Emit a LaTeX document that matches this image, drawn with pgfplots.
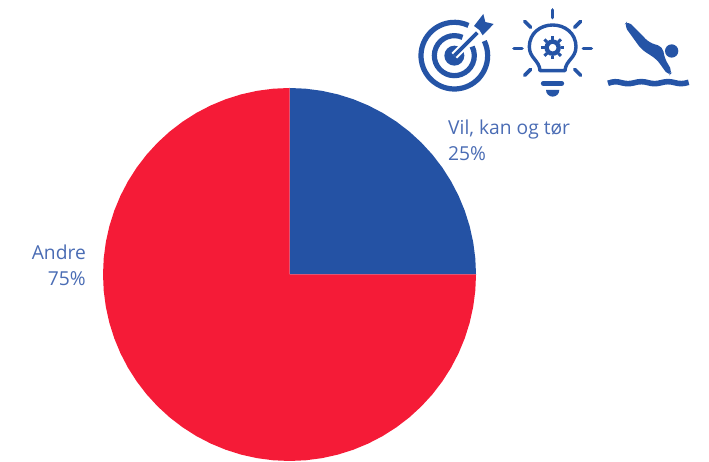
\documentclass[border=0pt]{standalone}
\usepackage{pgfplots}
\pgfplotsset{compat=1.18}
\usepackage{fontspec}
\setmainfont{Open Sans}
\definecolor{pieblue}{HTML}{2452A4}
\definecolor{piered}{HTML}{F51B37}
\definecolor{labelblue}{HTML}{4A6CB4}
\definecolor{iconblue}{HTML}{2554A6}
\begin{document}
\begin{tikzpicture}[x=1bp,y=1bp]
\useasboundingbox (0,0) rectangle (709,462);
\begin{axis}[
  at={(0,0)},anchor=south west,
  scale only axis,width=709bp,height=462bp,
  xmin=-289.5,xmax=419.5,ymin=-187.5,ymax=274.5,
  hide axis,clip=false,
]
% Share of 25 %: quarter circle, angle and radius per vertex
\addplot[data cs=polar,fill=pieblue,draw=none] coordinates {
 (0,0) (0,186.5) (5,186.5) (10,186.5) (15,186.5) (20,186.5) (25,186.5) (30,186.5) (35,186.5)
 (40,186.5) (45,186.5) (50,186.5) (55,186.5) (60,186.5) (65,186.5) (70,186.5) (75,186.5)
 (80,186.5) (85,186.5) (90,186.5)} -- cycle;
% Share of 75 %: the remaining three quarters
\addplot[data cs=polar,fill=piered,draw=none] coordinates {
 (0,0) (90,186.5) (95,186.5) (100,186.5) (105,186.5) (110,186.5) (115,186.5) (120,186.5)
 (125,186.5) (130,186.5) (135,186.5) (140,186.5) (145,186.5) (150,186.5) (155,186.5)
 (160,186.5) (165,186.5) (170,186.5) (175,186.5) (180,186.5) (185,186.5) (190,186.5)
 (195,186.5) (200,186.5) (205,186.5) (210,186.5) (215,186.5) (220,186.5) (225,186.5)
 (230,186.5) (235,186.5) (240,186.5) (245,186.5) (250,186.5) (255,186.5) (260,186.5)
 (265,186.5) (270,186.5) (275,186.5) (280,186.5) (285,186.5) (290,186.5) (295,186.5)
 (300,186.5) (305,186.5) (310,186.5) (315,186.5) (320,186.5) (325,186.5) (330,186.5)
 (335,186.5) (340,186.5) (345,186.5) (350,186.5) (355,186.5) (360,186.5)} -- cycle;
\end{axis}

% Slice labels
\begin{scope}[shift={(0,462)},y=-1bp]
\node[anchor=base east,inner sep=0pt,text=labelblue,font=\fontsize{19.3}{22}\selectfont] at (86,260) {Andre};
\node[anchor=base east,inner sep=0pt,text=labelblue,font=\fontsize{19.3}{22}\selectfont] at (86,286) {75\%};
\node[anchor=base west,inner sep=0pt,text=labelblue,font=\fontsize{19.3}{22}\selectfont] at (448,135) {Vil, kan og tør};
\node[anchor=base west,inner sep=0pt,text=labelblue,font=\fontsize{19.3}{22}\selectfont] at (448,161) {25\%};
\end{scope}

% Icons, in a finer grid of three units per point
\begin{scope}[shift={(400,462)},x=0.33333bp,y=-0.33333bp,iconblue]
% Target with arrow
\fill (163,167) circle (30);
\draw[line width=5.2bp] (163,167) ++(-66:60) arc[start angle=-66,end angle=-387,radius=60];
\draw[line width=5.2bp] (163,167) ++(-65:100) arc[start angle=-65,end angle=-386,radius=100];
\draw[white,line width=8bp] (163,167) -- (225,105);
\draw[line width=3.8bp] (163,167) -- (232,98);
\fill (222,78) -- (250,42) -- (256,66) -- (281,72) -- (248,106) -- (238,90) -- cycle;
% Light bulb
\draw[line width=3.4bp,line join=round]
  (420,212) -- (495,212) .. controls (497,180) and (528,175) .. (528,140)
  .. controls (528,100) and (495,75) .. (458,75)
  .. controls (421,75) and (388,100) .. (388,140)
  .. controls (388,175) and (418,180) .. (420,212) -- cycle;
\draw[line width=5bp,line cap=round] (430,250) -- (485,250);
\fill (438,270) -- (478,270) arc[start angle=0,end angle=180,radius=20] -- cycle;
\begin{scope}[line width=3.6bp,line cap=round]
\draw (458,30) -- (458,53);
\draw (342,145) -- (366,145);
\draw (550,145) -- (574,145);
\draw (374,64) -- (392,82);
\draw (542,64) -- (524,82);
\draw (374,226) -- (392,208);
\draw (542,226) -- (524,208);
\end{scope}
% Gear inside the bulb
\draw[line width=4.4bp] (458,143) circle (18);
\foreach \a in {0,45,...,315}{\draw[line width=3bp] (458,143) ++(\a:24) -- ++(\a:11);}
% Diver and water
\fill (815,153) circle (20);
\fill[rounded corners=5bp] (672,76) -- (683,62) -- (748,128) -- (788,140) -- (794,175)
  -- (818,216) -- (806,228) -- (770,178) -- (724,148) -- cycle;
\draw[line width=5.6bp]
  (624,250) .. controls (640,244) and (650,244) .. (664,248)
  .. controls (678,252) and (690,252) .. (704,248)
  .. controls (718,244) and (730,244) .. (744,248)
  .. controls (758,252) and (770,252) .. (784,248)
  .. controls (798,244) and (810,244) .. (824,248)
  .. controls (838,252) and (850,252) .. (866,247);
\end{scope}
\end{tikzpicture}
\end{document}
